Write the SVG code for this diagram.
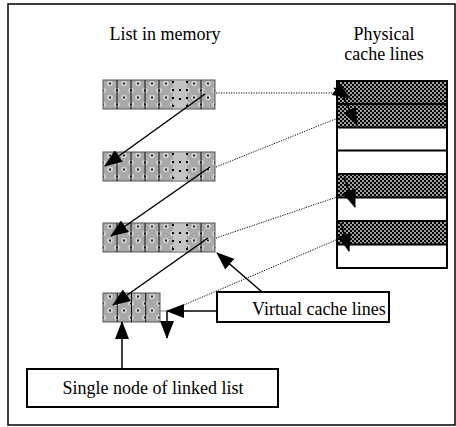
<svg xmlns="http://www.w3.org/2000/svg" width="456" height="427" viewBox="0 0 456 427">
  <style>
    text { font-family: 'Liberation Serif', 'Times New Roman', Times, serif; font-size: 18px; fill: #000; }
    .frame { fill: #fff; stroke: #000; stroke-width: 1.5; }
    .box { fill: #fff; stroke: #000; stroke-width: 2; }
    .block { fill: url(#dots); stroke: #555; stroke-width: 1; }
    .div { stroke: #111; stroke-width: 1; }
    .spare { fill: #c4c4c4; stroke: none; }
    .spare-edge { stroke: #000; stroke-width: 2; stroke-dasharray: 2 6; }
    .hatch { fill: url(#checker); stroke: none; }
    .rowline { stroke: #000; stroke-width: 2; }
    .link { stroke: #000; stroke-width: 1.5; fill: none; marker-end: url(#head); }
    .map { stroke: #000; stroke-width: 1; stroke-dasharray: 1.2 1.3; fill: none; }
  </style>
  <defs>
    <!-- dotted grey fill of the list node cells -->
    <pattern id="dots" patternUnits="userSpaceOnUse" width="14" height="14">
      <rect width="14" height="14" fill="#a9a9a9"/>
      <circle cx="7" cy="3.5" r="2.8" fill="#d2d2d2"/>
      <rect x="6" y="2.5" width="2" height="2" fill="#2a2a2a"/>
      <circle cx="0" cy="10.5" r="2.8" fill="#d2d2d2"/>
      <circle cx="14" cy="10.5" r="2.8" fill="#d2d2d2"/>
      <rect x="-1" y="9.5" width="2" height="2" fill="#2a2a2a"/>
      <rect x="13" y="9.5" width="2" height="2" fill="#2a2a2a"/>
    </pattern>
    <!-- checkered fill of occupied physical cache lines -->
    <pattern id="checker" patternUnits="userSpaceOnUse" width="4" height="4">
      <rect width="4" height="4" fill="#a0a0a0"/>
      <rect width="2" height="2" fill="#000"/>
      <rect x="2" y="2" width="2" height="2" fill="#000"/>
    </pattern>
    <marker id="head" viewBox="0 0 18 14" refX="17" refY="7" markerWidth="18" markerHeight="14" markerUnits="userSpaceOnUse" orient="auto">
      <path d="M0,0 L18,7 L0,14 Z" fill="#000"/>
    </marker>
  </defs>

  <rect class="frame" x="8" y="4" width="447" height="421"/>

  <g font-family="Liberation Serif, serif">
    <text x="165" y="40" text-anchor="middle">List in memory</text>
    <text x="384" y="40" text-anchor="middle">Physical</text>
    <text x="384" y="60" text-anchor="middle">cache lines</text>
  </g>

  <!-- list nodes in memory -->
  <g id="block1" transform="translate(103,80)">
    <rect class="block" width="112" height="29"/>
    <rect class="spare" x="70" y="0.5" width="14" height="28"/>
    <g class="div">
      <line x1="14" y1="0" x2="14" y2="29"/><line x1="28" y1="0" x2="28" y2="29"/>
      <line x1="42" y1="0" x2="42" y2="29"/><line x1="56" y1="0" x2="56" y2="29"/>
      <line x1="98" y1="0" x2="98" y2="29"/>
    </g>
    <line class="spare-edge" x1="70" y1="1" x2="70" y2="29"/>
    <line class="spare-edge" x1="84" y1="1" x2="84" y2="29"/>
    <rect x="76" y="9" width="2" height="2" fill="#000"/>
    <rect x="76" y="18" width="2" height="2" fill="#000"/>
  </g>
  <g id="block2" transform="translate(103,152)">
    <rect class="block" width="112" height="29"/>
    <rect class="spare" x="70" y="0.5" width="14" height="28"/>
    <g class="div">
      <line x1="14" y1="0" x2="14" y2="29"/><line x1="28" y1="0" x2="28" y2="29"/>
      <line x1="42" y1="0" x2="42" y2="29"/><line x1="56" y1="0" x2="56" y2="29"/>
      <line x1="98" y1="0" x2="98" y2="29"/>
    </g>
    <line class="spare-edge" x1="70" y1="1" x2="70" y2="29"/>
    <line class="spare-edge" x1="84" y1="1" x2="84" y2="29"/>
    <rect x="76" y="9" width="2" height="2" fill="#000"/>
    <rect x="76" y="18" width="2" height="2" fill="#000"/>
  </g>
  <g id="block3" transform="translate(103,223)">
    <rect class="block" width="112" height="29"/>
    <rect class="spare" x="70" y="0.5" width="14" height="28"/>
    <g class="div">
      <line x1="14" y1="0" x2="14" y2="29"/><line x1="28" y1="0" x2="28" y2="29"/>
      <line x1="42" y1="0" x2="42" y2="29"/><line x1="56" y1="0" x2="56" y2="29"/>
      <line x1="98" y1="0" x2="98" y2="29"/>
    </g>
    <line class="spare-edge" x1="70" y1="1" x2="70" y2="29"/>
    <line class="spare-edge" x1="84" y1="1" x2="84" y2="29"/>
    <rect x="76" y="9" width="2" height="2" fill="#000"/>
    <rect x="76" y="18" width="2" height="2" fill="#000"/>
  </g>
  <g id="block4" transform="translate(103,293)">
    <rect class="block" width="57" height="29"/>
    <g class="div">
      <line x1="14.25" y1="0" x2="14.25" y2="29"/><line x1="28.5" y1="0" x2="28.5" y2="29"/>
      <line x1="42.75" y1="0" x2="42.75" y2="29"/>
    </g>
  </g>

  <!-- physical cache lines -->
  <g id="cache">
    <rect x="337" y="81" width="110" height="187" fill="#fff"/>
    <rect class="hatch" x="337" y="81" width="110" height="46.5"/>
    <rect class="hatch" x="337" y="174" width="110" height="23.5"/>
    <rect class="hatch" x="337" y="221" width="110" height="23.5"/>
    <g class="rowline">
      <line x1="337" y1="104" x2="447" y2="104"/>
      <line x1="337" y1="127.5" x2="447" y2="127.5"/>
      <line x1="337" y1="150.5" x2="447" y2="150.5"/>
      <line x1="337" y1="174" x2="447" y2="174"/>
      <line x1="337" y1="197.5" x2="447" y2="197.5"/>
      <line x1="337" y1="221" x2="447" y2="221"/>
      <line x1="337" y1="244.5" x2="447" y2="244.5"/>
    </g>
    <rect x="337" y="81" width="110" height="187" fill="none" stroke="#000" stroke-width="2"/>
  </g>

  <g id="label-virtual" font-family="Liberation Serif, serif">
    <rect class="box" x="217" y="292" width="172" height="30"/>
    <text x="252" y="315">Virtual cache lines</text>
  </g>
  <g id="label-node" font-family="Liberation Serif, serif">
    <rect class="box" x="27" y="369" width="251" height="38"/>
    <text x="153" y="394" text-anchor="middle">Single node of linked list</text>
  </g>

  <g id="connectors">
    <!-- next pointers between list nodes -->
    <line class="link" x1="205" y1="94" x2="105" y2="166"/>
    <line class="link" x1="210" y1="167" x2="111" y2="236"/>
    <line class="link" x1="208" y1="238" x2="113" y2="305"/>
    <!-- mapping of nodes onto cache lines -->
    <line class="map" x1="216" y1="93" x2="338" y2="93"/>
    <line class="map" x1="216" y1="167" x2="338" y2="118"/>
    <line class="map" x1="216" y1="238" x2="343" y2="195"/>
    <line class="map" x1="172" y1="310" x2="343" y2="237"/>
    <!-- pointers inside the physical lines -->
    <line class="link" x1="334" y1="88" x2="350" y2="98"/>
    <line class="link" x1="342" y1="94" x2="357" y2="125"/>
    <line class="link" x1="344" y1="177" x2="355" y2="207"/>
    <line class="link" x1="341" y1="223" x2="349" y2="251"/>
    <!-- annotation arrows -->
    <line class="link" x1="262" y1="292" x2="217" y2="253"/>
    <line class="link" x1="217" y1="311" x2="167" y2="311"/>
    <line x1="160" y1="311" x2="167" y2="311" stroke="#888" stroke-width="1"/>
    <line class="link" x1="167" y1="311" x2="167" y2="338"/>
    <line class="link" x1="122" y1="369" x2="122" y2="322"/>
  </g>
</svg>
